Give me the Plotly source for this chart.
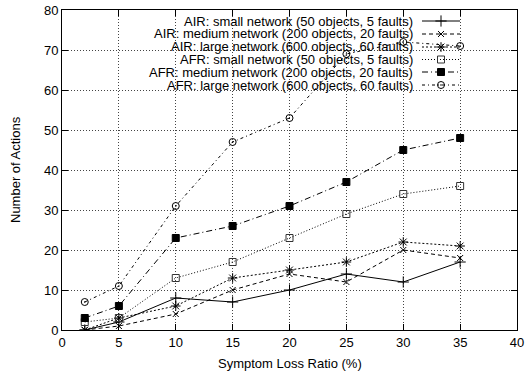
import plotly.graph_objects as go

# ---- data ----
ratio = [2, 5, 10, 15, 20, 25, 30, 35]
air_small = [0, 2, 8, 7, 10, 14, 12, 17]
air_medium = [0, 1, 4, 10, 14, 12, 20, 18]
air_large = [0, 3, 6, 13, 15, 17, 22, 21]
afr_small = [2, 3, 13, 17, 23, 29, 34, 36]
afr_medium = [3, 6, 23, 26, 31, 37, 45, 48]
afr_large = [7, 11, 31, 47, 53, 69, 72, 71]

series_names = [
    "AIR: small network (50 objects, 5 faults)",
    "AIR: medium network (200 objects, 20 faults)",
    "AIR: large network (600 objects, 60 faults)",
    "AFR: small network (50 objects, 5 faults)",
    "AFR: medium network (200 objects, 20 faults)",
    "AFR: large network (600 objects, 60 faults)",
]
series_values = [air_small, air_medium, air_large, afr_small, afr_medium, afr_large]

x_ticks = [0, 5, 10, 15, 20, 25, 30, 35, 40]
y_ticks = [0, 10, 20, 30, 40, 50, 60, 70, 80]

# ---- styles ----
styles = [
    dict(dash="solid", symbol="cross-thin", size=8, color="black"),
    dict(dash="4px,3px", symbol="x-thin", size=6, color="black"),
    dict(dash="2px,2px", symbol="asterisk", size=8, color="black"),
    dict(dash="1px,2px", symbol="square-open", size=7, color="#333333"),
    dict(dash="6px,3px,1px,3px", symbol="square", size=7, color="black"),
    dict(dash="3px,3px,1px,3px", symbol="circle-open-dot", size=7, color="black"),
]

FONT = "Liberation Sans, Arial, Helvetica, sans-serif"
W, H = 526, 375
ML, MR, MT, MB = 62, 9, 10, 45
PW = W - ML - MR
PH = H - MT - MB

fig = go.Figure()

for name, vals, st in zip(series_names, series_values, styles):
    fig.add_trace(go.Scatter(
        x=ratio, y=vals, name=name, mode="lines+markers",
        line=dict(color="black", width=1, dash=st["dash"]),
        marker=dict(symbol=st["symbol"], size=st["size"], color=st["color"],
                    line=dict(color=st["color"], width=1)),
        showlegend=False,
    ))

# ---- custom gnuplot-like key (text right, sample on right) ----
def px_to_paper_x(px):
    return (px - ML) / PW

def px_to_paper_y(py):
    return (MT + PH - py) / PH

row_px = [21, 34, 47, 59.5, 72, 85]
text_right = px_to_paper_x(415)
s0, s1 = px_to_paper_x(422), px_to_paper_x(460)
smid = (s0 + s1) / 2

annotations = []
for name, st, rp in zip(series_names, styles, row_px):
    yy = px_to_paper_y(rp)
    fig.add_trace(go.Scatter(
        x=[s0, s1], y=[yy, yy], xaxis="x2", yaxis="y2", mode="lines",
        line=dict(color="black", width=1, dash=st["dash"]),
        showlegend=False, hoverinfo="skip",
    ))
    fig.add_trace(go.Scatter(
        x=[smid], y=[yy], xaxis="x2", yaxis="y2", mode="markers",
        marker=dict(symbol=st["symbol"], size=st["size"], color=st["color"],
                    line=dict(color=st["color"], width=1)),
        showlegend=False, hoverinfo="skip",
    ))
    annotations.append(dict(
        x=text_right, y=yy, xref="paper", yref="paper", text=name,
        showarrow=False, xanchor="right", yanchor="middle",
        font=dict(family=FONT, size=13, color="black"),
    ))

annotations.append(dict(
    x=0.5, y=0, xref="paper", yref="paper", text="Symptom Loss Ratio (%)",
    showarrow=False, xanchor="center", yanchor="middle", yshift=-33,
    font=dict(family=FONT, size=13, color="black"),
))
annotations.append(dict(
    x=0, y=0.5, xref="paper", yref="paper", text="Number of Actions",
    showarrow=False, xanchor="center", yanchor="middle", xshift=-47,
    textangle=-90, font=dict(family=FONT, size=13, color="black"),
))

axis_common = dict(
    showline=True, linecolor="black", linewidth=1, mirror="allticks",
    ticks="inside", ticklen=6, tickcolor="black", tickwidth=1,
    showgrid=True, gridcolor="#444444", griddash="1px,2px", gridwidth=1,
    zeroline=False, automargin=False,
    tickfont=dict(family=FONT, size=13, color="black"),
)

fig.update_layout(
    width=W, height=H,
    margin=dict(l=ML, r=MR, t=MT, b=MB, pad=0, autoexpand=False),
    paper_bgcolor="white", plot_bgcolor="white",
    showlegend=False,
    xaxis=dict(range=[0, 40], tickvals=x_ticks, **axis_common),
    yaxis=dict(range=[0, 80], tickvals=y_ticks, **axis_common),
    xaxis2=dict(range=[0, 1], overlaying="x", visible=False, fixedrange=True,
                automargin=False),
    yaxis2=dict(range=[0, 1], overlaying="y", visible=False, fixedrange=True,
                automargin=False),
    annotations=annotations,
    shapes=[dict(
        type="rect", xref="paper", yref="paper", layer="between",
        x0=px_to_paper_x(63), x1=px_to_paper_x(462.6),
        y0=px_to_paper_y(93), y1=1,
        fillcolor="white", line=dict(width=0),
    )],
)

fig.write_html(
    "out.html",
    config={"displayModeBar": False, "staticPlot": True},
    post_script="document.body.style.margin='0px';document.body.style.overflow='hidden';",
)
